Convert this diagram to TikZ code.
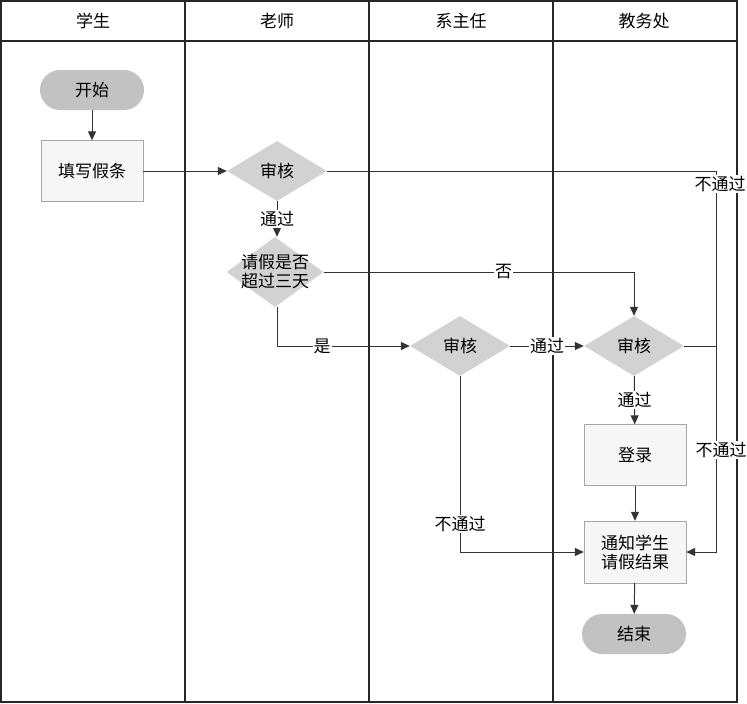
\documentclass[tikz,border=0pt]{standalone}
\usepackage{fontspec}
\setmainfont{Noto Sans CJK SC}
\usepackage{xcolor}
\usepackage{tikz}
\usetikzlibrary{shapes, arrows, arrows.meta, positioning, calc}
\definecolor{termgray}{HTML}{C2C2C2}
\definecolor{decgray}{HTML}{D2D2D2}
\definecolor{boxgray}{HTML}{F6F6F6}
\definecolor{linegray}{HTML}{333333}
\tikzset{
    term/.style={rectangle, rounded corners=20pt, minimum width=104pt, minimum height=40pt, fill=termgray, draw=none},
    proc/.style={rectangle, draw=black!35, minimum width=102pt, minimum height=61pt, fill=boxgray, align=center},
    decide/.style={diamond, aspect=1.6, minimum width=100pt, minimum height=60pt, inner sep=0pt, fill=decgray, align=center},
    arrow/.style={->, >={Triangle[length=9pt, width=8pt]}, draw=linegray, line width=1pt},
    conn/.style={draw=linegray, line width=1pt},
    lbl/.style={fill=white, inner sep=1pt},
    frame/.style={draw=black!85, line width=1.3pt}
}

\begin{document}
\begin{tikzpicture}[x=1pt, y=-1pt, font=\fontsize{17}{19}\selectfont]
  \useasboundingbox (0,0) rectangle (747,704);
  % swim lanes
  \draw[frame] (1,1) rectangle (737,702);
  \draw[frame] (1,41) -- (737,41);
  \foreach \x in {185, 369, 553}
    \draw[frame] (\x,1) -- (\x,702);
  \foreach \x/\lane in {93/学生, 277/老师, 461/系主任, 644/教务处}
    \node at (\x,21) {\lane};

  % nodes
  \node[term] (start) at (92,90) {开始};
  \node[proc] (apply) at (92,171) {填写假条};
  \node[decide] (check1) at (277,171) {审核};
  \node[decide, aspect=1.39, inner sep=-6pt, minimum width=97pt, minimum height=70pt] (days) at (275,272) {请假是否\\超过三天};
  \node[decide] (check2) at (460,346) {审核};
  \node[decide] (check3) at (634,346) {审核};
  \node[proc] (record) at (635,455) {登录};
  \node[proc, minimum height=62pt] (notify) at (635,552) {通知学生\\请假结果};
  \node[term] (finish) at (634,634) {结束};
  \coordinate (topbend) at (716,171);
  \coordinate (midbend) at (716,346);

  % connectors
  \draw[arrow] (start) -- (apply);
  \draw[arrow] (apply) -- (check1);
  \draw[arrow] (check1.south) -- node[lbl] {通过} (check1.south |- days.north);
  \draw[arrow] (days.east) -| node[lbl, pos=0.29] {否} (check3.north);
  \draw[arrow] (check1.south |- days.south) |- node[lbl, pos=0.67] {是} (check2.west);
  \draw[arrow] (check2) -- node[lbl] {通过} (check3);
  \draw[arrow] (check3) -- node[lbl] {通过} (record);
  \draw[arrow] (record) -- (notify);
  \draw[arrow] (notify) -- (finish);
  \draw[arrow] (check2.south) |- node[lbl, pos=0.42] {不通过} (notify.west);
  \draw[conn] (check1.east) -- (topbend) -- (midbend);
  \draw[arrow] (check3.east) -- (midbend) |- (notify.east);
  \node[lbl] at (720,184) {不通过};
  \node[lbl] at (721,450) {不通过};
\end{tikzpicture}
\end{document}
